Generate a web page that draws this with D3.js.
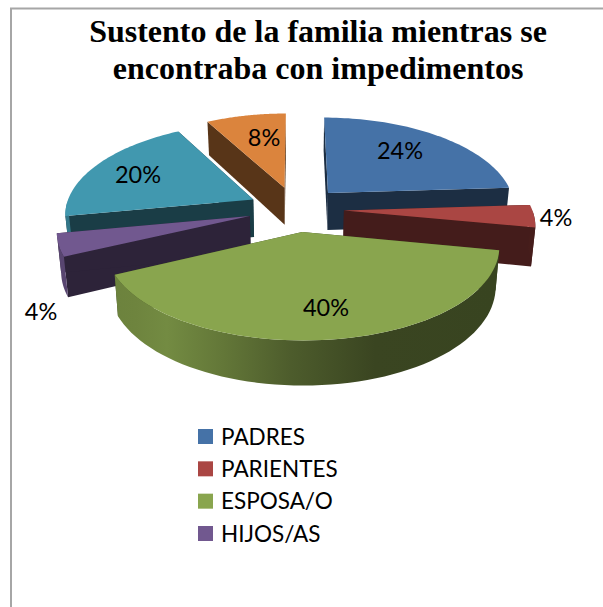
<!DOCTYPE html>
<html><head><meta charset="utf-8">
<script src="https://cdn.jsdelivr.net/npm/d3@7/dist/d3.min.js"></script>
<style>html,body{margin:0;padding:0;background:#fff}svg{display:block}</style>
</head><body><div id="chart"></div>
<script>
const legendCategories = ["PADRES","PARIENTES","ESPOSA/O","HIJOS/AS"];
const values = [24,4,40,4,20,8];
const labels = ["24%","4%","40%","4%","20%","8%"];
const colors = ["#4572A7","#AA4643","#89A54E","#71588F","#4198AF","#DB843D"];
const titleLines = ["Sustento de la familia mientras se","encontraba con impedimentos"];
const drawOrder = [5,0,4,1,3,2];

const W=603,H=607;
const svg=d3.select("#chart").append("svg").attr("width",W).attr("height",H);
const defs=svg.append("defs");

svg.append("path").attr("d",d3.line()([[11,H],[11,8.5],[W,8.5]])).attr("fill","none").attr("stroke","#a6a6a6").attr("stroke-width",2);

svg.append("g").selectAll("text").data(titleLines).join("text")
  .attr("x",318).attr("y",(d,i)=>42+i*37).attr("text-anchor","middle")
  .attr("font-family","'Liberation Serif',serif").attr("font-weight","bold").attr("font-size",32).attr("fill","#000").text(d=>d);

const pie=d3.pie().sort(null).value(d=>d).startAngle(0).endAngle(2*Math.PI);
const arcs=pie(values);

const cx=296,cy=209,A=188,B=88.5,ky=0.125,kx=0.14,explode=0.255,depth=38,shrink=0.982;
const sx=d3.scaleLinear().domain([-1,1]).range([cx-A,cx+A]);
const sy=d3.scaleLinear().domain([-1,1]).range([cy+B,cy-B]);
function proj(X,Z){return [sx(X/(1+kx*Z)),sy(Z/(1+ky*Z)),1/(1+ky*Z)];}
function topPt(X,Z){const p=proj(X,Z);return [p[0],p[1]];}
function botPt(X,Z){const p=proj(X,Z);return [cx+(p[0]-cx)*shrink,p[1]+depth*p[2]];}
const line=d3.line();

function wallGradient(i){
  const id="wall"+i,c=d3.color(colors[i]);
  const stops=[[0,.78],[.1,.8],[.18,.84],[.32,.72],[.49,.56],[.7,.42],[1,.41]];
  const g=defs.append("linearGradient").attr("id",id).attr("gradientUnits","userSpaceOnUse")
    .attr("x1",95).attr("x2",495).attr("y1",0).attr("y2",0);
  g.selectAll("stop").data(stops).join("stop").attr("offset",d=>d[0])
    .attr("stop-color",d=>d3.rgb(c.r*d[1],c.g*d[1],c.b*d[1]).formatHex());
  return "url(#"+id+")";
}

const gPie=svg.append("g");
drawOrder.forEach(i=>{
  const a=arcs[i],mid=(a.startAngle+a.endAngle)/2;
  const ox=explode*Math.sin(mid),oz=explode*Math.cos(mid);
  const n=60;
  const angles=d3.range(n+1).map(t=>a.startAngle+(a.endAngle-a.startAngle)*t/n);
  const toRim=th=>[ox+Math.sin(th),oz+Math.cos(th)];
  const rim=angles.map(toRim);
  const apex=[ox,oz];
  const c=d3.color(colors[i]);
  const dark=d3.rgb(c.r*.4,c.g*.4,c.b*.4).formatHex();
  const g=gPie.append("g").attr("class","slice");
  const wallPts=(p,q)=>[topPt(...p),topPt(...q),botPt(...q),botPt(...p)];
  g.append("path").attr("d",line(wallPts(apex,rim[0]))+"Z").attr("fill",dark);
  g.append("path").attr("d",line(wallPts(apex,rim[n]))+"Z").attr("fill",dark);
  // only the part of the curved wall that faces the viewer
  const front=angles.filter(th=>Math.cos(th)<0).map(toRim);
  if(front.length>1){
    g.append("path").attr("d",line(front.map(p=>topPt(...p)).concat(front.slice().reverse().map(p=>botPt(...p))))+"Z")
      .attr("fill",wallGradient(i));
  }
  g.append("path").attr("d",line([apex].concat(rim).map(p=>topPt(...p)))+"Z").attr("fill",colors[i]);
});

const font="Lato,'Open Sans',sans-serif";
svg.append("g").selectAll("text").data(labels).join("text")
  .attr("x",(d,i)=>[400,556,326,41,138,264][i]).attr("y",(d,i)=>[158.5,225.5,315.5,319.5,182.5,145.5][i])
  .attr("text-anchor","middle").attr("font-family",font).attr("font-size",23.5).attr("fill","#000").text(d=>d);

const legendY=d3.scalePoint().domain(legendCategories).range([436.5,533.5]);
const lg=svg.append("g").selectAll("g").data(legendCategories).join("g");
lg.append("rect").attr("x",198).attr("y",d=>legendY(d)-7.5).attr("width",15).attr("height",15).attr("fill",(d,i)=>colors[i]);
lg.append("text").attr("x",221).attr("y",d=>legendY(d)+8).attr("font-family",font).attr("font-size",22.5).attr("fill","#000").text(d=>d);
</script></body></html>
